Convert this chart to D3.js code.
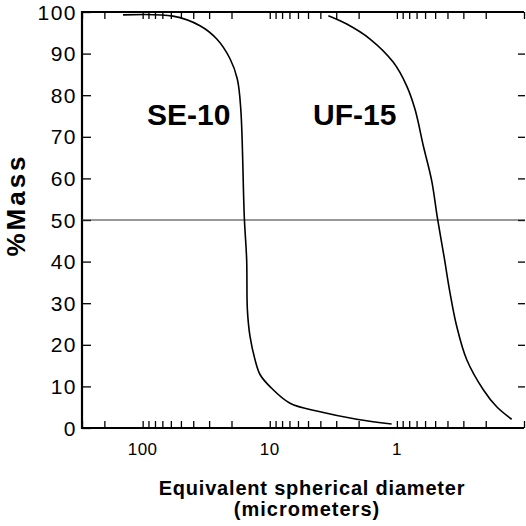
<!DOCTYPE html>
<html><head><meta charset="utf-8">
<script src="https://cdn.jsdelivr.net/npm/d3@7"></script>
<style>body{margin:0;background:#fff}svg{display:block}text{font-family:"Liberation Sans",Arial,sans-serif;fill:#000}</style>
</head><body><svg id="c" width="526" height="526"></svg>
<script>
// Data
const seDiam = [142.7, 57.7, 35.4, 26.1, 20.5, 18.0, 16.9, 15.85, 15.2, 15.0, 14.3, 13.06, 11.9, 9.96, 6.93, 4.02, 2.07, 1.10];
const seMass = [99.3, 99.0, 96.7, 93.5, 88.7, 83.9, 76.6, 50.5, 40.5, 28.4, 22.0, 16.4, 12.8, 9.95, 5.95, 3.9, 2.1, 0.96];
const ufDiam = [3.46, 2.48, 1.626, 1.066, 0.836, 0.72, 0.619, 0.532, 0.48, 0.426, 0.382, 0.338, 0.282, 0.209, 0.164, 0.125];
const ufMass = [99.1, 97.1, 93.5, 87.9, 82.2, 76.6, 67.8, 59.4, 50.5, 41.3, 32.5, 24.4, 16.4, 9.2, 5.1, 2.1];
const xTickLabels = [100, 10, 1];
const xMinorTicks = [300,200,100,90,80,70,60,50,40,30,20,10,9,8,7,6,5,4,3,2,1,0.9,0.8,0.7,0.6,0.5,0.4,0.3,0.2,0.1];
const yTicks = [0,10,20,30,40,50,60,70,80,90,100];
const seriesLabels = ["SE-10", "UF-15"];

const svg = d3.select("#c");
const L = 82, R = 524, T = 12, B = 428;
const x = d3.scaleLog().domain([300, 0.1]).range([L, R]);
const y = d3.scaleLinear().domain([0, 100]).range([B, T]);

// frame lines
svg.append("line").attr("x1", L).attr("x2", L).attr("y1", T - 1).attr("y2", B + 1).attr("stroke", "#000").attr("stroke-width", 2.2);
svg.append("line").attr("x1", L).attr("x2", R).attr("y1", B).attr("y2", B).attr("stroke", "#000").attr("stroke-width", 2.2);
svg.append("line").attr("x1", L).attr("x2", R).attr("y1", T).attr("y2", T).attr("stroke", "#000").attr("stroke-width", 2);

// x ticks bottom (inward) and top (inward)
const bottomAx = d3.axisTop(x).tickValues(xMinorTicks).tickSize(7).tickFormat("");
const gb = svg.append("g").attr("transform", `translate(0,${B})`).call(bottomAx);
gb.select(".domain").remove();
gb.selectAll(".tick line").attr("stroke", "#000").attr("stroke-width", 1.3);
const topAx = d3.axisBottom(x).tickValues(xMinorTicks).tickSize(7).tickFormat("");
const gt = svg.append("g").attr("transform", `translate(0,${T})`).call(topAx);
gt.select(".domain").remove();
gt.selectAll(".tick line").attr("stroke", "#000").attr("stroke-width", 1.3);

// x labels
svg.append("g").selectAll("text").data(xTickLabels).join("text")
  .attr("x", d => x(d)).attr("y", 455).attr("text-anchor", "middle")
  .attr("font-size", 17).attr("letter-spacing", 0.5).text(d => d);

// y axis left
const leftAx = d3.axisRight(y).tickValues(yTicks).tickSize(9).tickFormat("");
const gl = svg.append("g").attr("transform", `translate(${L},0)`).call(leftAx);
gl.select(".domain").remove();
gl.selectAll(".tick line").attr("stroke", "#000").attr("stroke-width", 1.3);
svg.append("g").selectAll("text").data(yTicks).join("text")
  .attr("x", 77).attr("y", d => y(d) + 7.5).attr("text-anchor", "end")
  .attr("font-size", 21).attr("letter-spacing", 1.5).text(d => d);

// y axis right ticks
const rightAx = d3.axisLeft(y).tickValues(yTicks.filter(d => d > 0 && d < 100)).tickSize(7).tickFormat("");
const gr = svg.append("g").attr("transform", `translate(525,0)`).call(rightAx);
gr.select(".domain").remove();
gr.selectAll(".tick line").attr("stroke", "#000").attr("stroke-width", 1.3);

// 50% line
svg.append("line").attr("x1", L).attr("x2", 525).attr("y1", y(50)).attr("y2", y(50))
  .attr("stroke", "#333").attr("stroke-width", 1.1);

// curves
const seData = seDiam.map((d, i) => [d, seMass[i]]);
const ufData = ufDiam.map((d, i) => [d, ufMass[i]]);
const lineX = d3.line().x(d => x(d[0])).y(d => y(d[1])).curve(d3.curveCatmullRom.alpha(0.5));
svg.append("path").attr("d", lineX(seData)).attr("fill", "none").attr("stroke", "#000").attr("stroke-width", 1.6);
svg.append("path").attr("d", lineX(ufData)).attr("fill", "none").attr("stroke", "#000").attr("stroke-width", 1.6);

// series labels
svg.append("text").attr("x", 147).attr("y", 125).attr("font-size", 30).attr("font-weight", "bold").text(seriesLabels[0]);
svg.append("text").attr("x", 313).attr("y", 125).attr("font-size", 30).attr("font-weight", "bold").text(seriesLabels[1]);

// axis titles
svg.append("text").attr("transform", "translate(25,205) rotate(-90)").attr("text-anchor", "middle")
  .attr("font-size", 26).attr("font-weight", "bold").attr("letter-spacing", 3).text("%Mass");
svg.append("text").attr("x", 312).attr("y", 495).attr("text-anchor", "middle")
  .attr("font-size", 20).attr("font-weight", "bold").attr("letter-spacing", 0.8).text("Equivalent spherical diameter");
svg.append("text").attr("x", 307).attr("y", 516).attr("text-anchor", "middle")
  .attr("font-size", 20).attr("font-weight", "bold").attr("letter-spacing", 1).text("(micrometers)");
</script></body></html>
